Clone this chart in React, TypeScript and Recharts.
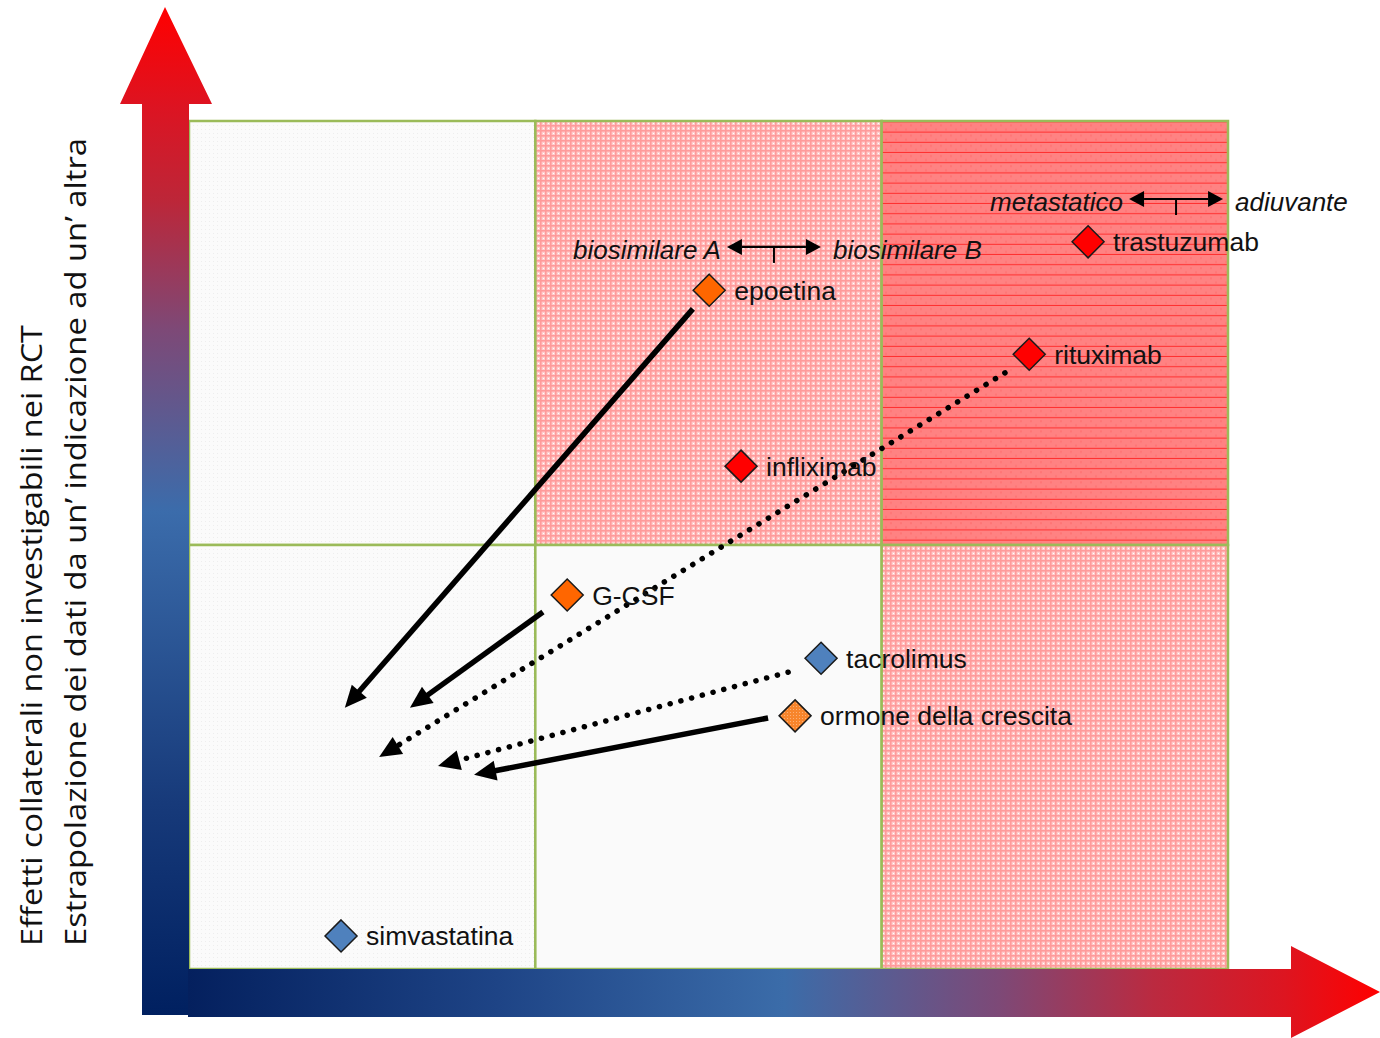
import React from 'react';
import { ScatterChart, Scatter, XAxis, YAxis, ReferenceArea, ReferenceLine } from 'recharts';

// ---- data ----
const drugNames = ['epoetina', 'trastuzumab', 'rituximab', 'infliximab', 'G-CSF', 'tacrolimus', 'ormone della crescita', 'simvastatina'];
const drugX = [1.502, 2.596, 2.426, 1.594, 1.092, 1.825, 1.750, 0.439];
const drugY = [1.601, 1.715, 1.450, 1.186, 0.882, 0.733, 0.597, 0.078];
const drugKind = ['orange', 'red', 'red', 'red', 'orange', 'blue', 'orangeLight', 'blue'];

const arrowStartX = [1.455, 1.022, 2.356, 1.730, 1.672];
const arrowStartY = [1.557, 0.842, 1.406, 0.700, 0.592];
const arrowEndX = [0.450, 0.638, 0.549, 0.719, 0.823];
const arrowEndY = [0.616, 0.616, 0.500, 0.479, 0.458];
const arrowDotted = [false, false, true, true, false];

const rangeLeft = ['biosimilare A', 'metastatico'];
const rangeRight = ['biosimilare B', 'adiuvante'];
const rangeX = [1.689, 2.850];
const rangeY = [1.703, 1.816];

const cellX1 = [0, 1, 2, 0, 1, 2];
const cellY1 = [1, 1, 1, 0, 0, 0];
const cellKind = ['gray', 'pink', 'red', 'gray', 'white', 'pink'];

const yLabelLines = ['Effetti collaterali non investigabili nei RCT', 'Estrapolazione dei dati da un’ indicazione ad un’ altra'];

// ---- styles ----
const kindFill: Record<string, string> = {
  orange: '#ff6600',
  red: '#ff0000',
  blue: '#4f81bd',
  orangeLight: 'url(#orangeDots)',
};
const cellFill: Record<string, string> = {
  gray: 'url(#grayDots)',
  pink: 'url(#pinkCheck)',
  red: 'url(#redLines)',
  white: '#fafafa',
};

const drugData = drugNames.map((name, i) => ({ name, x: drugX[i], y: drugY[i], kind: drugKind[i] }));
const rangeData = rangeLeft.map((l, i) => ({ left: l, right: rangeRight[i], x: rangeX[i], y: rangeY[i] }));

const FONT = '"Liberation Sans", Arial, sans-serif';

const DrugShape = (props: any) => {
  const { cx, cy, payload } = props;
  const h = 16;
  return (
    <g>
      <polygon
        points={`${cx},${cy - h} ${cx + h},${cy} ${cx},${cy + h} ${cx - h},${cy}`}
        fill={kindFill[payload.kind]}
        stroke="#1a1a1a"
        strokeWidth={1.5}
      />
      <text x={cx + 25} y={cy} dy="0.36em" fontFamily={FONT} fontSize={26.5} fill="#111">
        {payload.name}
      </text>
    </g>
  );
};

const RangeShape = (props: any) => {
  const { cx, cy, payload } = props;
  const half = 47;
  const head = 15;
  const hw = 8;
  return (
    <g>
      <line x1={cx - half + head} y1={cy} x2={cx + half - head} y2={cy} stroke="#000" strokeWidth={2.2} />
      <polygon points={`${cx - half},${cy} ${cx - half + head},${cy - hw} ${cx - half + head},${cy + hw}`} fill="#000" />
      <polygon points={`${cx + half},${cy} ${cx + half - head},${cy - hw} ${cx + half - head},${cy + hw}`} fill="#000" />
      <line x1={cx} y1={cy} x2={cx} y2={cy + 16} stroke="#000" strokeWidth={2} />
      <text x={cx - half - 6} y={cy + 3} dy="0.36em" textAnchor="end" fontFamily={FONT} fontStyle="italic" fontSize={26} fill="#111">
        {payload.left}
      </text>
      <text x={cx + half + 12} y={cy + 3} dy="0.36em" textAnchor="start" fontFamily={FONT} fontStyle="italic" fontSize={26} fill="#111">
        {payload.right}
      </text>
    </g>
  );
};

const makeArrow = (dotted: boolean) => (props: any) => {
  const { x1, y1, x2, y2 } = props;
  const dx = x2 - x1;
  const dy = y2 - y1;
  const len = Math.sqrt(dx * dx + dy * dy) || 1;
  const ux = dx / len;
  const uy = dy / len;
  const L = 22;
  const W = 10;
  const bx = x2 - ux * L;
  const by = y2 - uy * L;
  const px = -uy;
  const py = ux;
  return (
    <g>
      <line
        x1={x1}
        y1={y1}
        x2={bx + ux * 2}
        y2={by + uy * 2}
        stroke="#000"
        strokeWidth={5.5}
        strokeDasharray={dotted ? '0.1 11' : undefined}
        strokeLinecap={dotted ? 'round' : 'butt'}
      />
      <polygon points={`${x2},${y2} ${bx + px * W},${by + py * W} ${bx - px * W},${by - py * W}`} fill="#000" />
    </g>
  );
};

const Defs = () => (
  <svg width={0} height={0} style={{ position: 'absolute' }}>
    <defs>
      <pattern id="pinkCheck" width={5} height={5} patternUnits="userSpaceOnUse">
        <rect width={5} height={5} fill="#ffcccc" />
        <rect x={0} y={0} width={5} height={1.6} fill="#ff9a9a" />
        <rect x={0} y={0} width={1.6} height={5} fill="#ff9a9a" />
        <rect x={3} y={3} width={1} height={1} fill="#ffffff" />
      </pattern>
      <pattern id="redLines" width={10} height={10.2} patternUnits="userSpaceOnUse">
        <rect width={10} height={10.2} fill="#ff8282" />
        <rect x={0} y={2} width={2} height={2} fill="#ff7676" />
        <rect x={5} y={6} width={2} height={2} fill="#ff7676" />
        <rect x={0} y={9.2} width={10} height={1} fill="#ff2e2e" />
      </pattern>
      <pattern id="grayDots" width={4} height={4} patternUnits="userSpaceOnUse">
        <rect width={4} height={4} fill="#fbfbfb" />
        <rect x={1} y={1} width={1} height={1} fill="#eeeeee" />
      </pattern>
      <pattern id="orangeDots" width={3} height={3} patternUnits="userSpaceOnUse">
        <rect width={3} height={3} fill="#f7852c" />
        <rect x={1} y={1} width={1} height={1} fill="#fbb078" />
      </pattern>
      <linearGradient id="vGrad" gradientUnits="userSpaceOnUse" x1={0} y1={1015} x2={0} y2={8}>
        <stop offset="0" stopColor="#002060" />
        <stop offset="0.21" stopColor="#173a7a" />
        <stop offset="0.5" stopColor="#3b6cab" />
        <stop offset="0.68" stopColor="#7d4977" />
        <stop offset="0.81" stopColor="#bd2638" />
        <stop offset="0.9" stopColor="#dc1422" />
        <stop offset="1" stopColor="#ff0000" />
      </linearGradient>
      <linearGradient id="hGrad" gradientUnits="userSpaceOnUse" x1={188} y1={0} x2={1380} y2={0}>
        <stop offset="0" stopColor="#04205e" />
        <stop offset="0.26" stopColor="#1e4486" />
        <stop offset="0.5" stopColor="#3b6ca9" />
        <stop offset="0.68" stopColor="#7d4977" />
        <stop offset="0.81" stopColor="#bb2a40" />
        <stop offset="0.92" stopColor="#dd1520" />
        <stop offset="1" stopColor="#ff0000" />
      </linearGradient>
    </defs>
  </svg>
);

const Overlay = () => (
  <svg width={1380} height={1038} style={{ position: 'absolute', left: 0, top: 0, pointerEvents: 'none', overflow: 'visible' }}>
    <polygon points="142,1015 142,104 120,104 165,7 212,104 189,104 189,1015" fill="url(#vGrad)" />
    <polygon points="188,969 1291,969 1291,946 1380,992 1291,1038 1291,1017 188,1017" fill="url(#hGrad)" />
    <text
      x={42}
      y={946}
      transform="rotate(-90 42 946)"
      fontFamily='"Open Sans", sans-serif'
      fontSize={29}
      fill="#111"
      textLength={621}
      lengthAdjust="spacingAndGlyphs"
    >
      {yLabelLines[0]}
    </text>
    <text
      x={86}
      y={946}
      transform="rotate(-90 86 946)"
      fontFamily='"Open Sans", sans-serif'
      fontSize={29}
      fill="#111"
      textLength={808}
      lengthAdjust="spacingAndGlyphs"
    >
      {yLabelLines[1]}
    </text>
  </svg>
);

export default function App() {
  return (
    <div style={{ position: 'fixed', left: 0, top: 0, width: 1380, height: 1038, background: '#fff', overflow: 'hidden' }}>
      <Defs />
      <ScatterChart width={1380} height={1038} margin={{ top: 121, right: 152, bottom: 69, left: 189 }} style={{ overflow: 'visible' }}>
        <XAxis type="number" dataKey="x" domain={[0, 3]} hide />
        <YAxis type="number" dataKey="y" domain={[0, 2]} hide />
        {cellX1.map((x1, i) => (
          <ReferenceArea
            key={`cell-${i}`}
            x1={x1}
            x2={x1 + 1}
            y1={cellY1[i]}
            y2={cellY1[i] + 1}
            fill={cellFill[cellKind[i]]}
            fillOpacity={1}
            stroke="#9bbb59"
            strokeWidth={2.5}
            ifOverflow="visible"
          />
        ))}
        {arrowStartX.map((sx, i) => (
          <ReferenceLine
            key={`arrow-${i}`}
            segment={[
              { x: sx, y: arrowStartY[i] },
              { x: arrowEndX[i], y: arrowEndY[i] },
            ]}
            ifOverflow="visible"
            shape={makeArrow(arrowDotted[i])}
          />
        ))}
        <Scatter data={rangeData} shape={RangeShape} isAnimationActive={false} />
        <Scatter data={drugData} shape={DrugShape} isAnimationActive={false} />
      </ScatterChart>
      <Overlay />
    </div>
  );
}
